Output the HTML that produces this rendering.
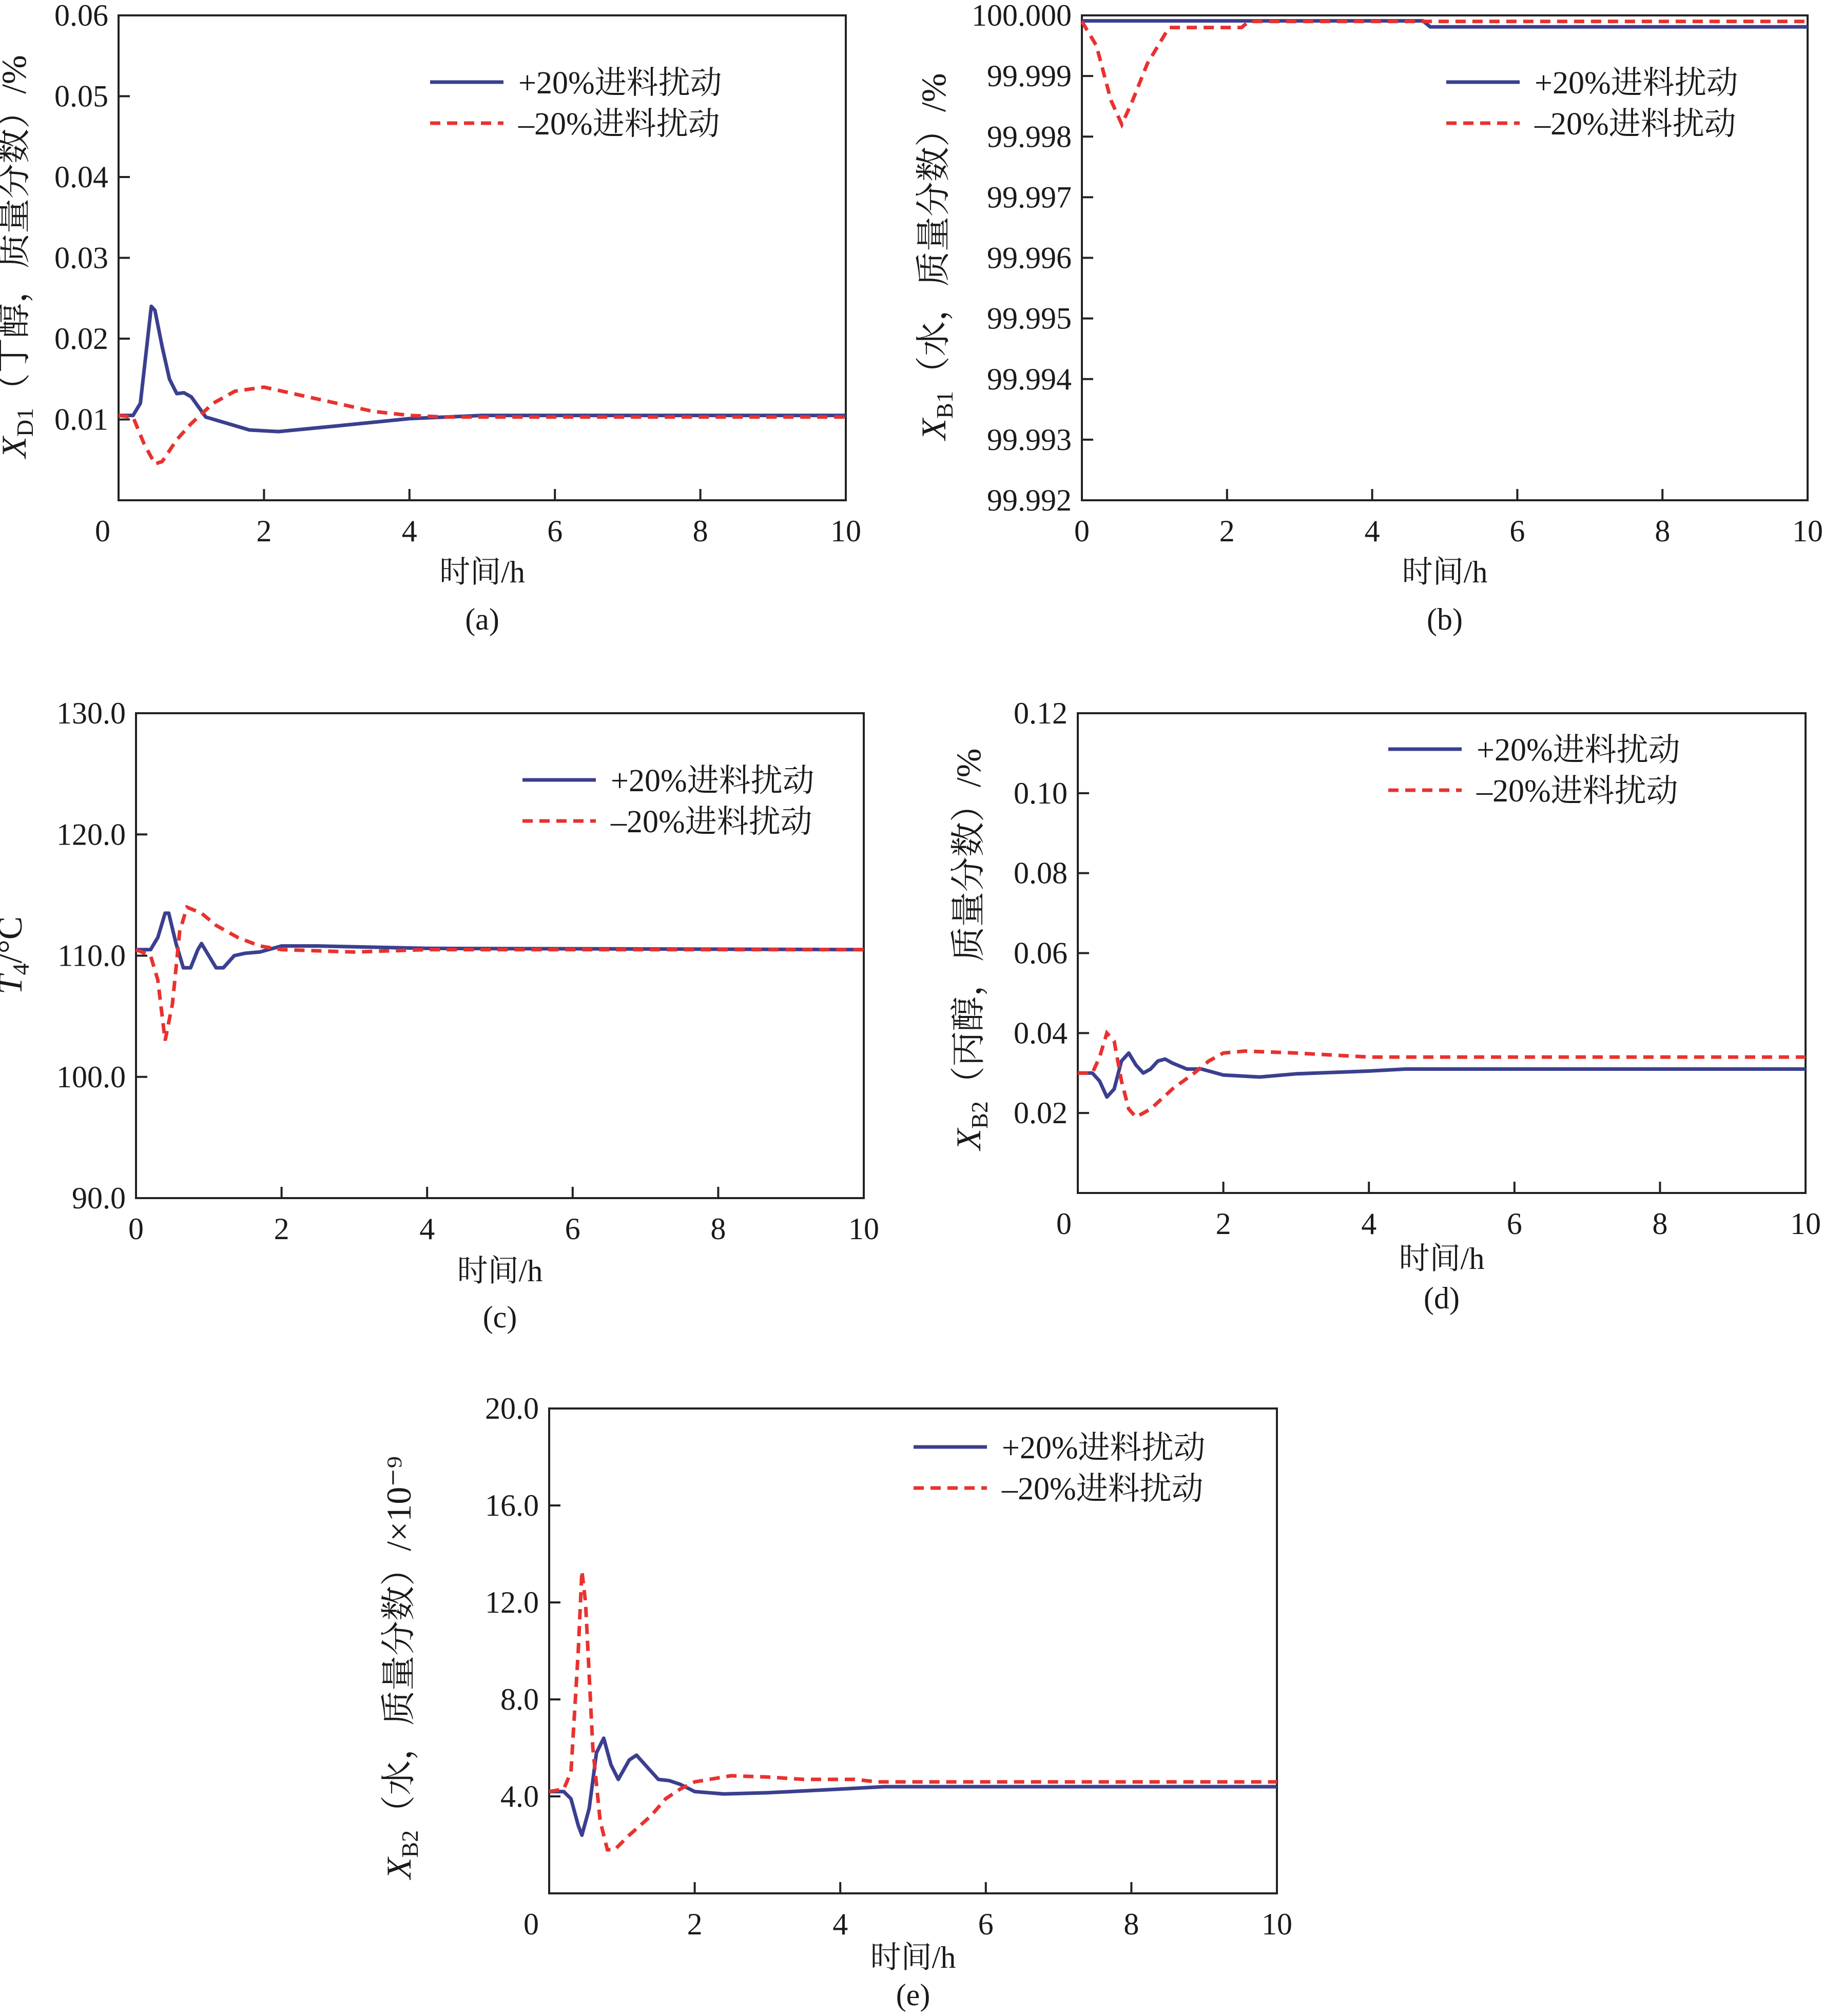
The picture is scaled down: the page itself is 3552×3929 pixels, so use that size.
<!DOCTYPE html>
<html><head><meta charset="utf-8"><style>
html,body{margin:0;padding:0;background:#fff}
text{font-family:"Liberation Serif","Noto Serif CJK SC",serif;fill:#1a1a1a}
</style></head><body>
<svg id="fig" width="3552" height="3924" viewBox="0 0 3552 3924" xmlns="http://www.w3.org/2000/svg"></svg>
<script>
// ---- data (a) ----
const aTimePlus=[0,0.2,0.3,0.4,0.45,0.5,0.6,0.7,0.8,0.9,1.0,1.2,1.5,1.8,2.2,3,4,5,10];
const aPlus=[0.0105,0.0105,0.012,0.02,0.024,0.0235,0.019,0.015,0.0132,0.0133,0.0128,0.0103,0.0095,0.0087,0.0085,0.0092,0.0101,0.0105,0.0105];
const aTimeMinus=[0,0.2,0.35,0.5,0.6,0.8,1.0,1.3,1.6,2,2.5,3,3.5,4,4.5,10];
const aMinus=[0.0105,0.0103,0.007,0.0045,0.0048,0.0075,0.0095,0.012,0.0135,0.014,0.013,0.012,0.011,0.0105,0.0103,0.0103];
const aYTicks=[0.01,0.02,0.03,0.04,0.05,0.06];
const aYLabels=["0.01","0.02","0.03","0.04","0.05","0.06"];
// ---- data (b) ----
const bTimePlus=[0,4.7,4.8,10];
const bPlus=[99.99991,99.99991,99.99981,99.99981];
const bTimeMinus=[0,0.2,0.4,0.55,0.7,0.9,1.2,2.2,2.3,10];
const bMinus=[99.9999,99.9995,99.9986,99.9982,99.9986,99.9992,99.9998,99.9998,99.9999,99.9999];
const bYTicks=[99.992,99.993,99.994,99.995,99.996,99.997,99.998,99.999,100.000];
const bYLabels=["99.992","99.993","99.994","99.995","99.996","99.997","99.998","99.999","100.000"];
// ---- data (c) ----
const cTimePlus=[0,0.2,0.3,0.4,0.45,0.55,0.65,0.75,0.85,0.9,1.0,1.1,1.2,1.35,1.5,1.7,2,2.5,4,10];
const cPlus=[110.5,110.5,111.5,113.5,113.5,111,109,109,110.5,111,110,109,109,110,110.2,110.3,110.8,110.8,110.6,110.5];
const cTimeMinus=[0,0.2,0.3,0.4,0.5,0.6,0.7,0.9,1.1,1.4,1.7,2,3,4,10];
const cMinus=[110.5,110,108,103,106,112,114,113.5,112.5,111.5,110.8,110.5,110.3,110.5,110.5];
const cYTicks=[90,100,110,120,130];
const cYLabels=["90.0","100.0","110.0","120.0","130.0"];
// ---- data (d) ----
const dTimePlus=[0,0.2,0.3,0.4,0.5,0.6,0.7,0.8,0.9,1.0,1.1,1.2,1.3,1.5,1.7,2,2.5,3,4,4.5,10];
const dPlus=[0.03,0.03,0.028,0.024,0.026,0.033,0.035,0.032,0.030,0.031,0.033,0.0335,0.0325,0.031,0.031,0.0295,0.029,0.0298,0.0305,0.031,0.031];
const dTimeMinus=[0,0.2,0.3,0.4,0.5,0.6,0.7,0.8,1.0,1.3,1.6,1.8,2,2.3,3,4,10];
const dMinus=[0.03,0.03,0.034,0.04,0.038,0.028,0.021,0.019,0.021,0.026,0.03,0.033,0.035,0.0355,0.035,0.034,0.034];
const dYTicks=[0.02,0.04,0.06,0.08,0.10,0.12];
const dYLabels=["0.02","0.04","0.06","0.08","0.10","0.12"];
// ---- data (e) ----
const eTimePlus=[0,0.2,0.3,0.4,0.45,0.55,0.65,0.75,0.85,0.95,1.1,1.2,1.35,1.5,1.65,1.8,2,2.4,3,4,4.6,10];
const ePlus=[4.2,4.2,3.9,2.8,2.4,3.5,5.8,6.4,5.3,4.7,5.5,5.7,5.2,4.7,4.65,4.5,4.2,4.1,4.15,4.3,4.4,4.4];
const eTimeMinus=[0,0.2,0.3,0.4,0.45,0.5,0.6,0.7,0.8,0.9,1.1,1.4,1.6,1.8,2,2.5,3,3.5,4.2,4.5,10];
const eMinus=[4.2,4.3,5,10,13.3,12,6,3,1.8,1.8,2.4,3.2,3.9,4.3,4.6,4.85,4.8,4.7,4.7,4.6,4.6];
const eYTicks=[4,8,12,16,20];
const eYLabels=["4.0","8.0","12.0","16.0","20.0"];
const xTicks=[0,2,4,6,8,10];
const xLabels=["0","2","4","6","8","10"];

const NS="http://www.w3.org/2000/svg";
const svg=document.getElementById('fig');
function mk(tag,attrs,parent){const e=document.createElementNS(NS,tag);for(const k in attrs)e.setAttribute(k,attrs[k]);(parent||svg).appendChild(e);return e;}

const panels=[
 {id:'a',x0:231,y0:30,x1:1648,y1:975,ymin:0,ymax:0.06,yt:aYTicks,yl:aYLabels,tp:aTimePlus,p:aPlus,tm:aTimeMinus,m:aMinus,
  legX:838,legY:160,zeroX:200,ylabX:50,ylabY:500,ylab:['X','D1','（丁醇，质量分数）/%'],tOff:140,cOff:232},
 {id:'b',x0:2108,y0:30,x1:3522,y1:975,ymin:99.992,ymax:100.000,yt:bYTicks,yl:bYLabels,tp:bTimePlus,p:bPlus,tm:bTimeMinus,m:bMinus,
  legX:2818,legY:160,zeroX:2108,ylabX:1842,ylabY:500,ylab:['X','B1','（水，质量分数）/%'],tOff:140,cOff:232},
 {id:'c',x0:265,y0:1390,x1:1683,y1:2335,ymin:90,ymax:130,yt:cYTicks,yl:cYLabels,tp:cTimePlus,p:cPlus,tm:cTimeMinus,m:cMinus,
  legX:1018,legY:1520,zeroX:265,ylabX:42,ylabY:1862,ylab:['T','4','/°C'],tOff:142,cOff:232},
 {id:'d',x0:2100,y0:1390,x1:3518,y1:2325,ymin:0,ymax:0.12,yt:dYTicks,yl:dYLabels,tp:dTimePlus,p:dPlus,tm:dTimeMinus,m:dMinus,
  legX:2705,legY:1460,zeroX:2073,ylabX:1910,ylabY:1850,ylab:['X','B2','（丙醇，质量分数）/%'],tOff:128,cOff:205},
 {id:'e',x0:1070,y0:2745,x1:2488,y1:3690,ymin:0,ymax:20,yt:eYTicks,yl:eYLabels,tp:eTimePlus,p:ePlus,tm:eTimeMinus,m:eMinus,
  legX:1780,legY:2820,zeroX:1035,ylabX:800,ylabY:3250,ylab:['X','B2','（水，质量分数）/×10⁻⁹'],tOff:125,cOff:198}
];

panels.forEach(P=>{
 const g=mk('g',{});
 
 
 const sx=t=>P.x0+(t/10)*(P.x1-P.x0);
 const sy=v=>P.y1-(v-P.ymin)/(P.ymax-P.ymin)*(P.y1-P.y0);
 const frame=mk('rect',{x:P.x0,y:P.y0,width:P.x1-P.x0,height:P.y1-P.y0,fill:'none',stroke:'#222','stroke-width':4},g);
 
 
 P.yt.forEach((v,i)=>{
  const y=sy(v);
  const tk=mk('line',{x1:P.x0,x2:P.x0+22,y1:y,y2:y,stroke:'#222','stroke-width':4},g);
  
  
  const t=mk('text',{x:P.x0-20,y:y+20,'font-size':60,'text-anchor':'end'},g);
  
  
  t.textContent=P.yl[i];
 });
 xTicks.forEach((v,i)=>{
  const x=sx(v);
  if(i>0&&i<xTicks.length-1){
   const tk=mk('line',{x1:x,x2:x,y1:P.y1,y2:P.y1-22,stroke:'#222','stroke-width':4},g);
   
   
  }
  const tx=(i===0)?P.zeroX:x;
  const t=mk('text',{x:tx,y:P.y1+80,'font-size':60,'text-anchor':'middle'},g);
  
  
  t.textContent=xLabels[i];
 });
 const cx=(P.x0+P.x1)/2;
 const xt=mk('text',{x:cx,y:P.y1+P.tOff+20,'font-size':60,'text-anchor':'middle'},g);
 
 
 xt.textContent='时间/h';
 const cap=mk('text',{x:cx,y:P.y1+P.cOff+20,'font-size':60,'text-anchor':'middle'},g);
 
 
 cap.textContent='('+P.id+')';
 const yt=mk('text',{x:P.ylabX,y:P.ylabY,'font-size':68,'text-anchor':'middle',transform:'rotate(-90 '+P.ylabX+' '+P.ylabY+')'},g);
 
 
 const s1=mk('tspan',{'font-style':'italic'},yt);s1.textContent=P.ylab[0];
 const s2=mk('tspan',{'font-size':46,dy:14},yt);s2.textContent=P.ylab[1];
 const s3=mk('tspan',{dy:-14},yt);s3.textContent=P.ylab[2];
 const pts=(T,V)=>T.map((t,i)=>sx(t).toFixed(1)+','+sy(V[i]).toFixed(1)).join(' ');
 const lp=mk('polyline',{points:pts(P.tp,P.p),fill:'none',stroke:'#3b3f8f','stroke-width':7,'stroke-linejoin':'round'},g);
 
 
 const lm=mk('polyline',{points:pts(P.tm,P.m),fill:'none',stroke:'#e8322f','stroke-width':7,'stroke-dasharray':'20 13'},g);
 
 
 const lg=mk('g',{},g);
 
 
 const l1=mk('line',{x1:P.legX,x2:P.legX+143,y1:P.legY,y2:P.legY,stroke:'#3b3f8f','stroke-width':7},lg);
 
 
 const t1=mk('text',{x:P.legX+172,y:P.legY+22,'font-size':62},lg);
 
 
 t1.textContent='+20%进料扰动';
 const l2=mk('line',{x1:P.legX,x2:P.legX+143,y1:P.legY+80,y2:P.legY+80,stroke:'#e8322f','stroke-width':7,'stroke-dasharray':'20 13'},lg);
 
 
 const t2=mk('text',{x:P.legX+172,y:P.legY+102,'font-size':62},lg);
 
 
 t2.textContent='–20%进料扰动';
});
</script>
</body></html>
